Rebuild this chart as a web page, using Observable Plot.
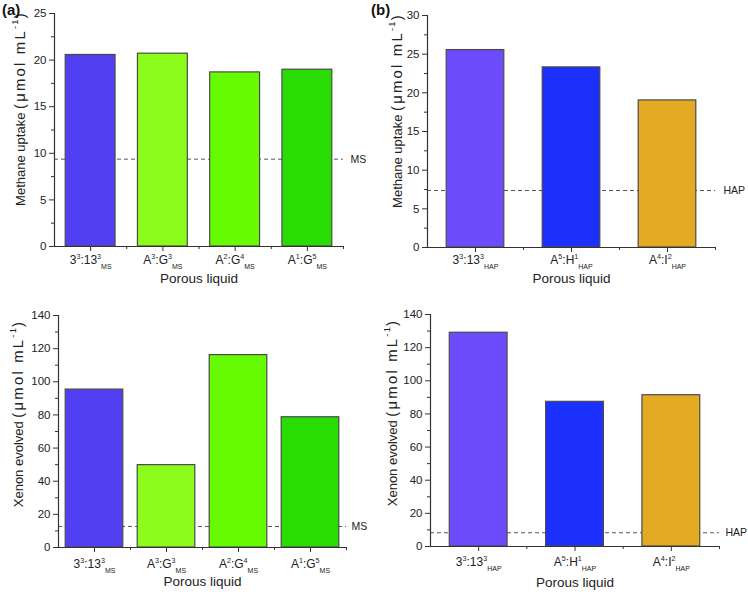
<!DOCTYPE html>
<html><head><meta charset="utf-8">
<script src="https://cdn.jsdelivr.net/npm/d3@7"></script>
<script src="https://cdn.jsdelivr.net/npm/@observablehq/plot@0.6"></script>
<style>
body{margin:0;background:#fff;}
#wrap{position:relative;width:748px;height:592px;font-family:"Liberation Sans",Arial,sans-serif;background:#fff;}
.panel{position:absolute;width:374px;height:296px;}
.panel svg{overflow:visible;}
.tag{position:absolute;font-weight:bold;font-size:15px;color:#111;line-height:18px;}
</style></head><body>
<div id="wrap">
  <div class="panel" id="pa" style="left:0;top:0"></div>
  <div class="panel" id="pb" style="left:374px;top:0"></div>
  <div class="panel" id="pc" style="left:0;top:296px"></div>
  <div class="panel" id="pd" style="left:374px;top:296px"></div>
  <div class="tag" style="left:2px;top:1px">(a)</div>
  <div class="tag" style="left:371px;top:1px">(b)</div>
</div>
<script>
// ---- data ----
const msCategories = ["3^{3}:13^{3}_{MS}", "A^{3}:G^{3}_{MS}", "A^{2}:G^{4}_{MS}", "A^{1}:G^{5}_{MS}"];
const hapCategories = ["3^{3}:13^{3}_{HAP}", "A^{5}:H^{1}_{HAP}", "A^{4}:I^{2}_{HAP}"];
const msMethane = [20.55, 20.69, 18.68, 18.97];
const hapMethane = [25.53, 23.29, 19.02];
const msXenon = [95.3, 49.7, 116.1, 78.6];
const hapXenon = [129.0, 87.3, 91.3];
const msMethaneRef = 9.37;
const hapMethaneRef = 7.37;
const msXenonRef = 12.7;
const hapXenonRef = 8.3;
const msColors = ["#5040f2", "#8cfc1c", "#68fc04", "#28dc04"];
const hapColors = ["#6c4cfc", "#1c30fc", "#e4aa24"];
const methaneTicksA = [0, 5, 10, 15, 20, 25];
const methaneMinorA = [2.5, 7.5, 12.5, 17.5, 22.5];
const methaneTicksB = [0, 5, 10, 15, 20, 25, 30];
const methaneMinorB = [2.5, 7.5, 12.5, 17.5, 22.5, 27.5];
const xenonTicks = [0, 20, 40, 60, 80, 100, 120, 140];
const xenonMinor = [10, 30, 50, 70, 90, 110, 130];
const methaneLabel = "Methane uptake ~{(\u03bcmol mL}^{-1}~{)}";
const xenonLabel = "Xenon evolved ~{(\u03bcmol mL}^{-1}~{)}";
const xLabel = "Porous liquid";

const FONT = '"Liberation Sans", Arial, sans-serif';
const NS = "http://www.w3.org/2000/svg";

// turns ^{..} (superscript), _{..} (subscript), ~{..} (larger) into tspans
function richify(svg) {
  svg.querySelectorAll("text").forEach(t => {
    const s = t.textContent;
    if (!/[\^_~]\{/.test(s)) return;
    let base = 11, node = t;
    while (node && node.getAttribute) {
      const fs = node.getAttribute("font-size");
      if (fs) { base = parseFloat(fs); break; }
      node = node.parentNode;
    }
    const isLabel = base > 12.5;
    const re = /\^\{([^}]*)\}|_\{([^}]*)\}|~\{([^}]*)\}|([^\^_~]+)/g;
    const toks = [];
    let m;
    while ((m = re.exec(s))) {
      if (m[1] != null) toks.push({t: m[1], mode: "sup"});
      else if (m[2] != null) toks.push({t: m[2], mode: "sub"});
      else if (m[3] != null) toks.push({t: m[3], mode: "big"});
      else toks.push({t: m[4], mode: "n"});
    }
    while (t.firstChild) t.removeChild(t.firstChild);
    let cur = 0;
    for (const k of toks) {
      const ts = document.createElementNS(NS, "tspan");
      const target = k.mode === "sup" ? -(isLabel ? 0.55 : 0.42) * base : k.mode === "sub" ? 0.45 * base : 0;
      if (target !== cur) ts.setAttribute("dy", (target - cur).toFixed(2));
      cur = target;
      if (k.mode === "sup") ts.setAttribute("font-size", (base * (isLabel ? 0.72 : 0.6)).toFixed(1));
      if (k.mode === "sub") ts.setAttribute("font-size", (base * 0.58).toFixed(1));
      if (k.mode === "big") { ts.setAttribute("font-size", (base * 1.15).toFixed(1)); ts.setAttribute("letter-spacing", "2.2"); }
      if (k.mode === "sup" && isLabel) ts.setAttribute("letter-spacing", "1.2");
      ts.textContent = k.t;
      t.appendChild(ts);
    }
  });
}

function panel(el, o) {
  const n = o.cats.length;
  const data = o.cats.map((c, i) => ({cat: c, pos: i + 1, value: o.values[i], color: o.colors[i]}));
  const centers = o.cats.map((c, i) => i + 1);
  const bounds = d3.range(n + 1).map(i => i + 0.5).slice(1);
  const svg = Plot.plot({
    width: 374, height: 296,
    marginLeft: o.m[0], marginTop: o.m[1], marginRight: o.m[2], marginBottom: o.m[3],
    x: {type: "linear", domain: [0.5, n + 0.5]},
    y: {domain: o.yDomain},
    color: {type: "identity"},
    style: {fontFamily: FONT, fontSize: "11px", color: "#222", background: "transparent", overflow: "visible"},
    marks: [
      Plot.ruleY([o.ref], {stroke: "#555", strokeWidth: 1, strokeDasharray: "4,3"}),
      Plot.rectY(data, {x1: d => d.pos - o.bw / 2, x2: d => d.pos + o.bw / 2, y1: 0, y2: "value", fill: "color", stroke: "#4a4a4a", strokeWidth: 1.2}),
      Plot.text([o.ref], {y: d => d, text: () => o.refLabel, frameAnchor: "right", textAnchor: "start", lineAnchor: "middle", dx: o.refDx, fontSize: 10.5, fill: "#222"}),
      Plot.axisY(o.yTicks, {tickSize: 5, tickPadding: 3, label: null, fontSize: 11.5, stroke: "#333"}),
      Plot.axisY(o.yMinor, {tickSize: 3, tickFormat: () => "", label: null, stroke: "#333"}),
      Plot.axisX(centers, {tickSize: 5, tickPadding: o.xPad, label: null, tickFormat: d => o.cats[d - 1], fontSize: 12, stroke: "#333"}),
      Plot.axisX(bounds, {tickSize: 3, tickFormat: () => "", label: null, stroke: "#333"}),
      Plot.ruleX([0.5], {stroke: "#333", strokeWidth: 1.2}),
      Plot.ruleY([0], {stroke: "#333", strokeWidth: 1.2}),
      Plot.text([o.yLabel], {text: d => d, frameAnchor: "left", textAnchor: "middle", lineAnchor: "middle", rotate: -90, dx: o.yl[0], dy: o.yl[1], fontSize: 13, fill: "#222"}),
      Plot.text([xLabel], {text: d => d, frameAnchor: "bottom", textAnchor: "middle", lineAnchor: "middle", dy: o.xl, fontSize: 13.5, fill: "#222"})
    ]
  });
  richify(svg);
  el.appendChild(svg);
}

panel(document.getElementById("pa"), {
  cats: msCategories, values: msMethane, colors: msColors, ref: msMethaneRef, refLabel: "MS",
  yDomain: [0, 25], yTicks: methaneTicksA, yMinor: methaneMinorA, bw: 0.69,
  m: [54, 13, 31, 50], yLabel: methaneLabel, yl: [-34, -21.5], xl: 32, refDx: 7, xPad: 4
});
panel(document.getElementById("pb"), {
  cats: hapCategories, values: hapMethane, colors: hapColors, ref: hapMethaneRef, refLabel: "HAP",
  yDomain: [0, 30], yTicks: methaneTicksB, yMinor: methaneMinorB, bw: 0.6,
  m: [53, 15, 33, 49], yLabel: methaneLabel, yl: [-30, -21], xl: 31, refDx: 8, xPad: 3
});
panel(document.getElementById("pc"), {
  cats: msCategories, values: msXenon, colors: msColors, ref: msXenonRef, refLabel: "MS",
  yDomain: [0, 140], yTicks: xenonTicks, yMinor: xenonMinor, bw: 0.8,
  m: [58, 19, 28, 45], yLabel: xenonLabel, yl: [-40, -18], xl: 34, refDx: 5, xPad: 7
});
panel(document.getElementById("pd"), {
  cats: hapCategories, values: hapXenon, colors: hapColors, ref: hapXenonRef, refLabel: "HAP",
  yDomain: [0, 140], yTicks: xenonTicks, yMinor: xenonMinor, bw: 0.6,
  m: [56, 18, 29, 46], yLabel: xenonLabel, yl: [-38, -18], xl: 36, refDx: 6, xPad: 6
});
</script>
</body></html>
